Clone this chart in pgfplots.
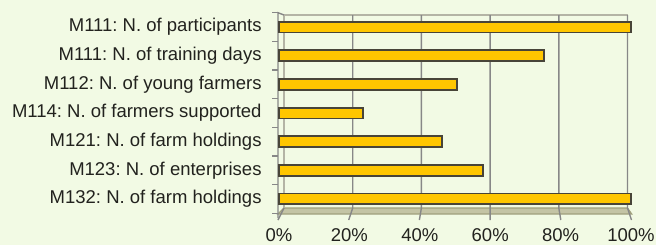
\documentclass[border=0pt]{standalone}
\usepackage{fontspec}
\setmainfont{Liberation Sans}
\usepackage{pgfplots}
\pgfplotsset{compat=1.18}
\definecolor{bg}{RGB}{242,250,228}
\definecolor{barfill}{RGB}{255,198,0}
\definecolor{bardraw}{RGB}{72,68,56}
\definecolor{gridc}{RGB}{135,135,135}
\definecolor{lightgridc}{RGB}{180,180,165}
\definecolor{floorfill}{RGB}{196,196,165}
\definecolor{flooredge}{RGB}{160,160,125}
\definecolor{txt}{RGB}{34,34,30}
\frenchspacing
\begin{document}
\frenchspacing
\begin{tikzpicture}[x=1bp,y=1bp]
\fill[bg] (-279,-31.7) rectangle (377,213.3);
% floor
\filldraw[fill=floorfill, draw=flooredge, line width=1.2bp] (5,5.3) -- (348.5,5.3) -- (352.7,-0.7) -- (-1,-0.7) -- cycle;
% back wall top line
\draw[lightgridc, line width=1.2bp] (5,198.3) -- (348.5,198.3);
\draw[lightgridc, line width=1.2bp] (5,198.3) -- (5,5.3);
% back grid lines
\foreach \v in {20,40,60,80,100} {
  \draw[gridc, line width=1.4bp] ({5+3.435*\v},198.3) -- ({5+3.435*\v},5.3) -- ({-1+3.535*\v},-6.7);
}
\draw[gridc, line width=1.4bp] (5,5.3) -- (-1,-6.7);
% front wall
\draw[gridc, line width=1.4bp] (-1,-4.7) -- (-1,200.6) -- (5,198.3);
\foreach \k in {0,...,7} {
  \draw[gridc, line width=1.4bp] (-7,{200.6-28.657*\k}) -- (-1,{200.6-28.657*\k});
}
\begin{axis}[
  at={(0,0)}, anchor=south west,
  scale only axis, width=352bp, height=200.6bp,
  xbar, bar width=10.8bp,
  xmin=0, xmax=100, ymin=-0.5, ymax=6.5, y dir=reverse,
  axis line style={draw=none}, tick style={draw=none},
  ytick={0,...,6},
  yticklabels={M111: N. of participants, M111: N. of training days\ , M112: N. of young farmers, M114: N. of farmers supported, M121: N. of farm holdings, M123: N. of enterprises\ , M132: N. of farm holdings},
  xtick={0,20,40,60,80,100},
  xticklabels={0\%,20\%,40\%,60\%,80\%,100\%},
  ticklabel style={font=\frenchspacing\fontsize{18.5bp}{21bp}\selectfont, text=txt},
  yticklabel style={anchor=east, inner sep=0pt, xshift=-13bp},
  xticklabel style={anchor=north, inner sep=0pt, yshift=-14.7bp},
  clip=false,
]
\addplot[fill=barfill, draw=bardraw, line width=1.8bp] coordinates {
  (100,0) (75.3,1) (50.5,2) (23.9,3) (46.3,4) (57.9,5) (100,6)
};
\end{axis}
\pgfresetboundingbox
\path[use as bounding box] (-279,-31.7) rectangle (377,213.3);
\end{tikzpicture}
\end{document}
